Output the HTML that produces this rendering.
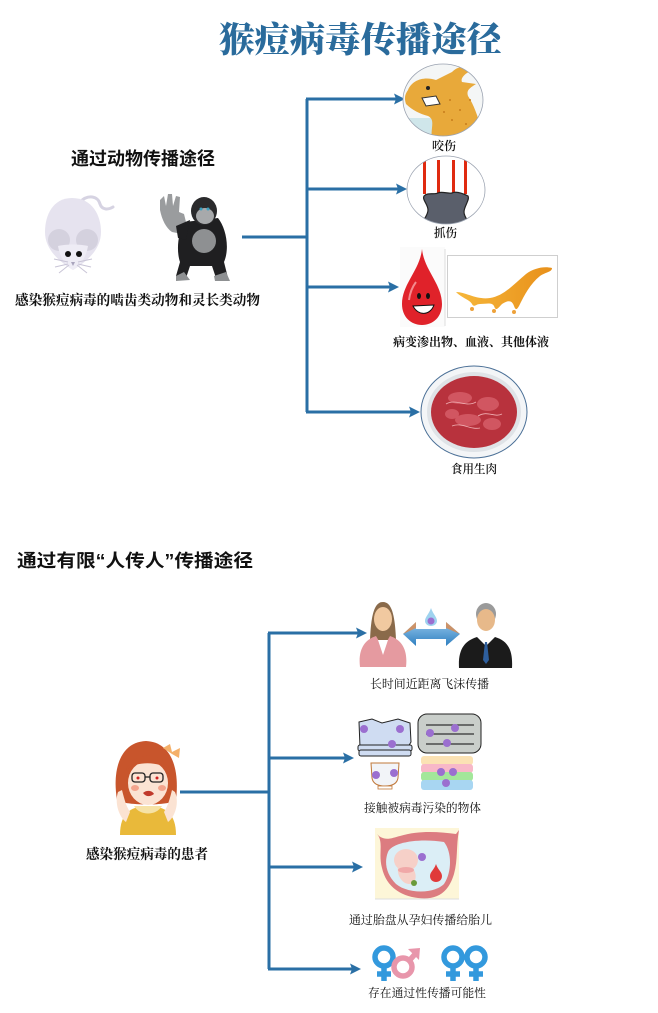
<!DOCTYPE html>
<html>
<head>
<meta charset="utf-8">
<style>
html,body{margin:0;padding:0;background:#fff;}
svg{display:block;}
.sans{font-family:"Liberation Sans","Noto Sans CJK SC",sans-serif;}
.serif{font-family:"Liberation Serif","Noto Serif CJK SC",serif;}
</style>
</head>
<body>
<svg width="658" height="1013" viewBox="0 0 658 1013" xmlns="http://www.w3.org/2000/svg">
<defs>
  <linearGradient id="dbl" x1="0" y1="0" x2="0" y2="1">
    <stop offset="0" stop-color="#8fc3ea"/>
    <stop offset="1" stop-color="#2f7fc0"/>
  </linearGradient>
  <linearGradient id="honey" x1="0" y1="0" x2="1" y2="0">
    <stop offset="0" stop-color="#f6b73a"/>
    <stop offset="1" stop-color="#e8901a"/>
  </linearGradient>
  <clipPath id="dogclip"><ellipse cx="443" cy="100" rx="40" ry="36"/></clipPath>
  <clipPath id="clawclip"><ellipse cx="446" cy="190" rx="39" ry="34"/></clipPath>
</defs>

<!-- Title -->
<text x="219" y="52" class="serif" font-size="35" font-weight="900" fill="#2a6b9c" textLength="283" lengthAdjust="spacingAndGlyphs">猴痘病毒传播途径</text>

<!-- Section 1 heading -->
<text x="71" y="165" class="sans" font-size="18" font-weight="700" fill="#111" textLength="144" lengthAdjust="spacingAndGlyphs">通过动物传播途径</text>

<!-- Mouse -->
<g>
  <path d="M80 202 C88 194 98 196 100 204 C102 210 108 210 113 207" stroke="#d6d3e2" stroke-width="3" fill="none" stroke-linecap="round"/>
  <path d="M72 198 C92 198 101 215 101 232 C101 250 86 262 73 270 C60 262 45 250 45 232 C45 215 53 198 72 198 Z" fill="#e6e3ef"/>
  <circle cx="59" cy="240" r="11" fill="#d4d1de"/>
  <circle cx="87" cy="240" r="11" fill="#d4d1de"/>
  <path d="M58 246 C66 244 80 244 88 246 C86 258 80 266 73 270 C66 266 60 258 58 246Z" fill="#eeecf5"/>
  <circle cx="68" cy="254" r="3" fill="#111"/>
  <circle cx="79" cy="254" r="3" fill="#111"/>
  <path d="M71 262 L75 262 L73 266Z" fill="#a9a4bd"/>
  <g stroke="#c8c4d6" stroke-width="1">
    <line x1="68" y1="262" x2="54" y2="259"/><line x1="68" y1="264" x2="55" y2="267"/><line x1="69" y1="265" x2="59" y2="273"/>
    <line x1="78" y1="262" x2="92" y2="259"/><line x1="78" y1="264" x2="91" y2="267"/><line x1="77" y1="265" x2="87" y2="273"/>
  </g>
</g>

<!-- Gorilla -->
<g>
  <path d="M185 222 C178 232 176 250 180 262 L176 276 L186 278 L190 266 L212 266 L216 278 L228 278 L224 262 C230 248 226 228 218 218 Z" fill="#1f1f21"/>
  <path d="M160 200 L164 196 L166 206 L168 194 L172 194 L173 206 L176 196 L180 197 L179 212 L184 214 L186 222 L182 234 L172 232 C166 228 162 220 160 210Z" fill="#9a9c9e"/>
  <path d="M176 226 L190 220 L186 240 L178 238Z" fill="#1f1f21"/>
  <ellipse cx="204" cy="211" rx="13" ry="14" fill="#2a2a2c"/>
  <ellipse cx="205" cy="216" rx="9" ry="8" fill="#a7a9ab"/>
  <ellipse cx="204" cy="241" rx="12" ry="12" fill="#8e9092"/>
  <path d="M176 276 L184 272 L190 280 L176 281Z" fill="#8e9092"/>
  <path d="M214 276 L226 272 L230 281 L215 281Z" fill="#8e9092"/>
  <circle cx="201" cy="209" r="1.5" fill="#3aa0c0"/><circle cx="208" cy="209" r="1.5" fill="#3aa0c0"/>
</g>

<text x="15" y="305" class="serif" font-size="14" font-weight="700" fill="#111" textLength="245" lengthAdjust="spacingAndGlyphs">感染猴痘病毒的啮齿类动物和灵长类动物</text>

<!-- Section 1 connectors -->
<g stroke="#2a6fa5" stroke-width="3" fill="none">
  <line x1="242" y1="237" x2="307" y2="237"/>
  <line x1="307" y1="99" x2="307" y2="412"/>
  <line x1="306" y1="99" x2="396" y2="99"/>
  <line x1="306" y1="189" x2="398" y2="189"/>
  <line x1="306" y1="287" x2="390" y2="287"/>
  <line x1="306" y1="412" x2="411" y2="412"/>
</g>
<g fill="#2a6fa5">
  <path d="M405 99 L394 93.5 L396 99 L394 104.5Z"/>
  <path d="M407 189 L396 183.5 L398 189 L396 194.5Z"/>
  <path d="M399 287 L388 281.5 L390 287 L388 292.5Z"/>
  <path d="M420 412 L409 406.5 L411 412 L409 417.5Z"/>
</g>

<!-- Dog -->
<g clip-path="url(#dogclip)">
  <rect x="400" y="60" width="90" height="80" fill="#f4f6f6"/>
  <rect x="400" y="118" width="40" height="22" fill="#cfe6ea"/>
  <path d="M408 90 C412 80 424 76 436 80 L452 72 C458 66 468 64 474 70 C466 72 460 78 462 82 L476 84 C470 88 466 90 468 96 C476 108 480 124 484 140 L432 140 C430 128 436 120 428 116 C420 114 412 110 406 104 C404 98 405 94 408 90Z" fill="#e8a93a"/>
  <path d="M422 98 L436 96 L440 104 L426 106Z" fill="#fff" stroke="#333" stroke-width="1"/>
  <circle cx="428" cy="88" r="2" fill="#222"/>
  <g fill="#c77c1a"><circle cx="450" cy="100" r="1"/><circle cx="460" cy="110" r="1"/><circle cx="452" cy="120" r="1"/><circle cx="466" cy="124" r="1"/><circle cx="444" cy="112" r="1"/><circle cx="470" cy="100" r="1"/></g>
</g>
<ellipse cx="443" cy="100" rx="40" ry="36" fill="none" stroke="#9aa2b0" stroke-width="0.8"/>
<text x="432" y="150" class="serif" font-size="12" font-weight="600" fill="#111" textLength="24" lengthAdjust="spacingAndGlyphs">咬伤</text>

<!-- Claw -->
<g clip-path="url(#clawclip)">
  <rect x="405" y="155" width="85" height="72" fill="#fff"/>
  <rect x="423" y="160" width="3" height="34" fill="#e02a10"/>
  <rect x="437" y="160" width="3" height="34" fill="#e02a10"/>
  <rect x="452" y="160" width="3" height="34" fill="#e02a10"/>
  <rect x="464" y="160" width="3" height="34" fill="#e02a10"/>
  <path d="M424 196 C428 192 434 195 438 193 C442 191 448 194 452 193 C456 191 462 193 468 196 C470 200 464 206 464 212 C464 218 470 222 470 226 L422 226 C422 220 428 216 428 210 C428 204 422 200 424 196Z" fill="#5a5f6b" stroke="#222" stroke-width="1.2"/>
</g>
<ellipse cx="446" cy="190" rx="39" ry="34" fill="none" stroke="#9aa2b0" stroke-width="0.8"/>
<text x="434" y="237" class="serif" font-size="12" font-weight="600" fill="#111" textLength="23" lengthAdjust="spacingAndGlyphs">抓伤</text>

<!-- Blood drop -->
<rect x="400" y="247" width="45" height="80" fill="#fbfbfb"/>
<line x1="445" y1="249" x2="445" y2="326" stroke="#ddd" stroke-width="1"/>
<path d="M422 249 C424 270 442 284 442 304 C442 317 433 325 422 325 C411 325 402 317 402 304 C402 284 420 270 422 249Z" fill="#e0222a"/>
<path d="M409 300 C410 292 413 286 416 282" stroke="#f38a8e" stroke-width="2" fill="none"/>
<ellipse cx="419" cy="296" rx="2" ry="3" fill="#111"/>
<ellipse cx="428" cy="296" rx="2" ry="3" fill="#111"/>
<path d="M413 306 C418 316 430 316 434 305Z" fill="#fff" stroke="#111" stroke-width="1"/>

<!-- Honey -->
<rect x="447.5" y="255.5" width="110" height="62" fill="#fff" stroke="#cfcfcf" stroke-width="1"/>
<path d="M456 292 C466 292 476 300 490 298 C504 296 514 284 526 274 C534 268 544 266 552 268 C552 272 546 272 540 276 C530 284 524 296 520 304 C518 308 516 312 514 306 C512 300 508 300 502 304 C498 308 496 312 494 306 C492 302 486 304 480 304 C476 304 474 308 472 304 C470 300 462 298 456 292Z" fill="url(#honey)"/>
<circle cx="472" cy="309" r="2" fill="#eea23a"/><circle cx="494" cy="311" r="2" fill="#eea23a"/><circle cx="514" cy="312" r="2" fill="#eea23a"/>
<text x="393" y="346" class="serif" font-size="12" font-weight="700" fill="#111" textLength="156" lengthAdjust="spacingAndGlyphs">病变渗出物、血液、其他体液</text>

<!-- Meat plate -->
<ellipse cx="474" cy="412" rx="53" ry="46" fill="#f3f5f7" stroke="#4a6f96" stroke-width="1"/>
<ellipse cx="474" cy="412" rx="47" ry="40" fill="#dfe3e7"/>
<ellipse cx="474" cy="412" rx="43" ry="36" fill="#b8323d"/>
<g fill="#d8606a" opacity="0.8">
  <ellipse cx="460" cy="398" rx="12" ry="6"/>
  <ellipse cx="488" cy="404" rx="11" ry="7"/>
  <ellipse cx="468" cy="420" rx="13" ry="6"/>
  <ellipse cx="492" cy="424" rx="9" ry="6"/>
  <ellipse cx="452" cy="414" rx="7" ry="5"/>
</g>
<g stroke="#f0b0b4" stroke-width="0.8" fill="none">
  <path d="M446 404 C456 398 466 408 476 402"/><path d="M478 416 C488 410 494 418 502 414"/><path d="M452 426 C462 422 470 430 480 428"/>
</g>
<text x="451" y="473" class="serif" font-size="12" font-weight="600" fill="#111" textLength="46" lengthAdjust="spacingAndGlyphs">食用生肉</text>

<!-- Section 2 heading -->
<text x="17" y="567" class="sans" font-size="18" font-weight="700" fill="#111" textLength="236" lengthAdjust="spacingAndGlyphs">通过有限“人传人”传播途径</text>

<!-- Section 2 connectors -->
<g stroke="#2a6fa5" stroke-width="3" fill="none">
  <line x1="180" y1="792" x2="269" y2="792"/>
  <line x1="269" y1="633" x2="269" y2="969"/>
  <line x1="268" y1="633" x2="358" y2="633"/>
  <line x1="268" y1="758" x2="345" y2="758"/>
  <line x1="268" y1="867" x2="354" y2="867"/>
  <line x1="268" y1="969" x2="352" y2="969"/>
</g>
<g fill="#2a6fa5">
  <path d="M367 633 L356 627.5 L358 633 L356 638.5Z"/>
  <path d="M354 758 L343 752.5 L345 758 L343 763.5Z"/>
  <path d="M363 867 L352 861.5 L354 867 L352 872.5Z"/>
  <path d="M361 969 L350 963.5 L352 969 L350 974.5Z"/>
</g>

<!-- Woman -->
<path d="M370 640 C371 616 374 602 383 602 C392 602 395 616 396 640Z" fill="#8a6a4a"/>
<ellipse cx="383" cy="619" rx="9" ry="12" fill="#f1c9a0"/>
<path d="M360 667 C358 650 364 640 376 636 L383 648 L390 636 C402 640 408 650 406 667Z" fill="#e59aa0"/>
<path d="M378 640 L383 655 L388 640Z" fill="#fff"/>

<!-- Double arrow + drop -->
<path d="M403 634 L416 622 L416 629 L446 629 L446 622 L460 634 L446 646 L446 639 L416 639 L416 646Z" fill="url(#dbl)"/>
<path d="M403 634 L416 622 L416 628Z" fill="#e0894a" opacity="0.8"/>
<path d="M460 634 L446 622 L446 628Z" fill="#e0894a" opacity="0.8"/>
<path d="M431 608 C433 614 437 617 437 621 C437 624 434 626 431 626 C428 626 425 624 425 621 C425 617 429 614 431 608Z" fill="#9fd3ef"/>
<circle cx="431" cy="621" r="3.5" fill="#9b6fd0"/>

<!-- Man -->
<ellipse cx="486" cy="614" rx="10" ry="11" fill="#9a9a9a"/>
<ellipse cx="486" cy="620" rx="9" ry="11" fill="#e7b98a"/>
<path d="M459 668 C458 650 464 641 477 637 L486 646 L495 637 C508 641 513 650 512 668Z" fill="#1b1b1b"/>
<path d="M481 638 L486 646 L491 638Z" fill="#fff"/>
<path d="M485 642 L487 642 L489 660 L486 664 L483 660Z" fill="#2e5f9e"/>
<text x="370" y="688" class="serif" font-size="12" fill="#111" textLength="119" lengthAdjust="spacingAndGlyphs">长时间近距离飞沫传播</text>

<!-- Clothes -->
<g stroke="#222" stroke-width="1">
  <path d="M359 722 L372 719 L382 723 L398 719 L410 723 L411 742 L408 747 L360 747Z" fill="#cfdcf2"/>
  <rect x="358" y="745" width="54" height="6" rx="2" fill="#cfdcf2"/>
  <rect x="359" y="750" width="52" height="6" rx="2" fill="#cfdcf2"/>
</g>
<g fill="#9b6fd0"><circle cx="364" cy="729" r="4"/><circle cx="400" cy="729" r="4"/><circle cx="392" cy="744" r="4"/></g>
<!-- Blanket -->
<rect x="418" y="714" width="63" height="39" rx="9" fill="#c9ceca" stroke="#222" stroke-width="1"/>
<g stroke="#333" stroke-width="1.2"><line x1="426" y1="725" x2="474" y2="725"/><line x1="426" y1="734" x2="474" y2="734"/><line x1="426" y1="744" x2="474" y2="744"/></g>
<g fill="#9b6fd0"><circle cx="430" cy="733" r="4"/><circle cx="455" cy="728" r="4"/><circle cx="447" cy="743" r="4"/></g>
<!-- Cup -->
<path d="M371 763 L399 763 L398 778 C397 784 392 786 385 786 C378 786 373 784 372 778Z" fill="#f2f4f8" stroke="#c0783a" stroke-width="1"/>
<rect x="378" y="786" width="14" height="3" fill="#fff" stroke="#c0783a" stroke-width="0.8"/>
<g fill="#9b6fd0"><circle cx="376" cy="775" r="4"/><circle cx="394" cy="773" r="4"/></g>
<!-- Towels -->
<rect x="421" y="756" width="52" height="9" rx="3" fill="#fbe2b4"/>
<rect x="421" y="764" width="52" height="9" rx="3" fill="#f8b8c8"/>
<rect x="421" y="772" width="52" height="9" rx="3" fill="#a3e79a"/>
<rect x="421" y="780" width="52" height="10" rx="3" fill="#a8d6f2"/>
<g fill="#9b6fd0"><circle cx="441" cy="772" r="4"/><circle cx="453" cy="772" r="4"/><circle cx="446" cy="783" r="4"/></g>
<text x="364" y="812" class="serif" font-size="12" fill="#111" textLength="117" lengthAdjust="spacingAndGlyphs">接触被病毒污染的物体</text>

<!-- Girl -->
<path d="M117 800 C112 770 120 742 146 741 C170 742 180 766 176 800 C170 806 124 806 117 800Z" fill="#c8552c"/>
<ellipse cx="148" cy="783" rx="20" ry="22" fill="#fbe3d3"/>
<path d="M126 770 C132 752 162 750 170 770 C160 762 138 760 126 770Z" fill="#c8552c"/>
<path d="M163 748 L170 744 L172 752 L180 748 L179 758 L172 754Z" fill="#f4b06a"/>
<g stroke="#222" stroke-width="1.3" fill="none">
  <rect x="132" y="773" width="13" height="9" rx="3"/><rect x="150" y="773" width="13" height="9" rx="3"/>
  <line x1="145" y1="777" x2="150" y2="777"/>
</g>
<circle cx="138" cy="778" r="1.5" fill="#c22"/><circle cx="157" cy="778" r="1.5" fill="#c22"/>
<ellipse cx="135" cy="788" rx="4" ry="3" fill="#f08a70" opacity="0.7"/>
<ellipse cx="162" cy="788" rx="4" ry="3" fill="#f08a70" opacity="0.7"/>
<path d="M143 793 C146 790 152 790 154 794 C150 797 146 797 143 793Z" fill="#c0392b"/>
<path d="M120 835 C120 814 130 806 148 806 C166 806 176 814 176 835Z" fill="#e9b93a"/>
<path d="M134 806 C140 816 156 816 162 806Z" fill="#f6e2a6"/>
<path d="M118 792 C114 804 120 818 126 822 L130 812 C126 806 124 798 122 790Z" fill="#fbe3d3"/>
<path d="M175 792 C180 804 174 818 168 822 L164 812 C168 806 170 798 172 790Z" fill="#fbe3d3"/>
<text x="86" y="859" class="serif" font-size="14" font-weight="700" fill="#111" textLength="122" lengthAdjust="spacingAndGlyphs">感染猴痘病毒的患者</text>

<!-- Fetus -->
<rect x="375" y="828" width="84" height="71" fill="#fdf6d8"/>
<path d="M377 834 C384 842 392 838 400 836 C420 830 440 832 456 834 L459 830 C456 846 458 860 454 874 C448 894 436 900 418 898 C400 896 386 886 382 868 C378 854 384 842 377 834Z" fill="#dc7c80"/>
<path d="M388 852 C392 842 420 838 444 842 C452 852 452 872 444 884 C434 894 408 894 396 884 C386 874 384 862 388 852Z" fill="#dbeef6"/>
<ellipse cx="406" cy="860" rx="12" ry="11" fill="#f6d0c8"/>
<path d="M398 866 C396 880 408 888 414 882 C418 876 414 868 410 866Z" fill="#f6d0c8"/>
<ellipse cx="406" cy="870" rx="8" ry="3" fill="#f0a8a8"/>
<circle cx="422" cy="857" r="4" fill="#9b6fd0"/>
<path d="M436 864 C438 870 442 872 442 876 C442 880 439 882 436 882 C433 882 430 880 430 876 C430 872 434 870 436 864Z" fill="#e03a3a"/>
<circle cx="414" cy="883" r="3" fill="#6a9a3a"/>
<line x1="375" y1="899" x2="459" y2="899" stroke="#ddd" stroke-width="1"/>
<text x="349" y="924" class="serif" font-size="12" fill="#111" textLength="143" lengthAdjust="spacingAndGlyphs">通过胎盘从孕妇传播给胎儿</text>

<!-- Gender symbols -->
<g fill="none" stroke-width="5.5">
  <circle cx="384" cy="957" r="9" stroke="#3399dd"/>
  <line x1="384" y1="966" x2="384" y2="981" stroke="#3399dd"/>
  <line x1="377" y1="974" x2="391" y2="974" stroke="#3399dd"/>
  <circle cx="403" cy="967" r="9" stroke="#e896ab"/>
  <line x1="409" y1="961" x2="416" y2="953" stroke="#e896ab"/>
  <circle cx="453" cy="957" r="9" stroke="#3399dd"/>
  <line x1="453" y1="966" x2="453" y2="981" stroke="#3399dd"/>
  <line x1="446" y1="974" x2="460" y2="974" stroke="#3399dd"/>
  <circle cx="476" cy="957" r="9" stroke="#3399dd"/>
  <line x1="476" y1="966" x2="476" y2="981" stroke="#3399dd"/>
  <line x1="469" y1="974" x2="483" y2="974" stroke="#3399dd"/>
</g>
<path d="M420 948 L408 949 L419 960Z" fill="#e896ab"/>
<text x="368" y="997" class="serif" font-size="12" fill="#111" textLength="118" lengthAdjust="spacingAndGlyphs">存在通过性传播可能性</text>
</svg>
</body>
</html>
